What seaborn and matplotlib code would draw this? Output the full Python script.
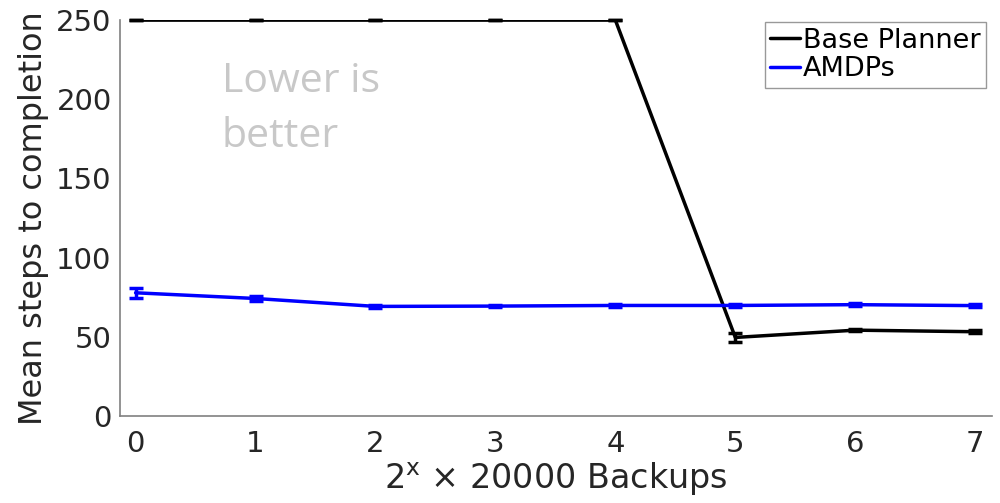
import matplotlib
matplotlib.use("Agg")
import matplotlib.pyplot as plt
import seaborn as sns
import pandas as pd
import numpy as np

x_vals = [0, 1, 2, 3, 4, 5, 6, 7]
base_mean = [250, 250, 250, 250, 250, 49.6, 54.2, 53.2]
base_err = [0, 0, 0, 0, 0, 2.6, 0.8, 0.8]
amdp_mean = [77.8, 74.2, 69.2, 69.4, 69.8, 69.8, 70.3, 69.7]
amdp_err = [3.0, 1.6, 0.9, 0.7, 0.7, 0.8, 1.0, 1.0]
series_names = ["Base Planner", "AMDPs"]
colors = ["black", "#0000ff"]

sns.set_style("white")
plt.rcParams['font.family'] = ['DejaVu Sans']

df = pd.DataFrame({
    "x": x_vals * 2,
    "y": base_mean + amdp_mean,
    "series": [series_names[0]] * 8 + [series_names[1]] * 8,
})

fig = plt.figure(figsize=(10, 5.03), dpi=100)
ax = fig.add_axes([0.12, 0.173, 0.872, 0.787])

sns.lineplot(data=df, x="x", y="y", hue="series", palette=colors,
             linewidth=2.5, ax=ax, legend=True)
for mean, err, c in [(base_mean, base_err, colors[0]), (amdp_mean, amdp_err, colors[1])]:
    ax.errorbar(x_vals, mean, yerr=err, fmt="none", ecolor=c, elinewidth=2.5,
                capsize=5, capthick=2.5, clip_on=False, zorder=3)

ax.set_xlim(-0.13, 7.14)
ax.set_ylim(0, 250)
ax.set_xticks(x_vals)
ax.set_yticks([0, 50, 100, 150, 200, 250])
ax.tick_params(direction="in", length=7, width=1, colors="#808080",
               labelcolor="#262626", labelsize=21)
ax.tick_params(axis="x", pad=10)
ax.tick_params(axis="y", pad=6)
for s in ["top", "right"]:
    ax.spines[s].set_visible(False)
for s in ["left", "bottom"]:
    ax.spines[s].set_color("#808080")
    ax.spines[s].set_linewidth(1.2)

ax.set_xlabel(r"$\mathregular{2^{x}}$ $\times$ 20000 Backups", fontsize=24,
              color="#262626", labelpad=2)
ax.set_ylabel("Mean steps to completion", fontsize=23, color="#262626", labelpad=5)

ax.text(0.72, 204.4, "Lower is", fontsize=29.5, color="#c8c8c8",
        va="baseline", ha="left", family=["Open Sans", "DejaVu Sans"])
ax.text(0.72, 169.6, "better", fontsize=29.5, color="#c8c8c8",
        va="baseline", ha="left", family=["Open Sans", "DejaVu Sans"])

leg = ax.legend(loc="upper right", bbox_to_anchor=(0.993, 0.995), fontsize=19.5,
                frameon=True, fancybox=False, handlelength=1.1, handletextpad=0.1,
                borderpad=0.2, labelspacing=0.1, borderaxespad=0.0)
leg.get_frame().set_edgecolor("#808080")
leg.get_frame().set_linewidth(1)
for t in leg.get_texts():
    t.set_color("#000000")

fig.savefig("out.png", dpi=100)
